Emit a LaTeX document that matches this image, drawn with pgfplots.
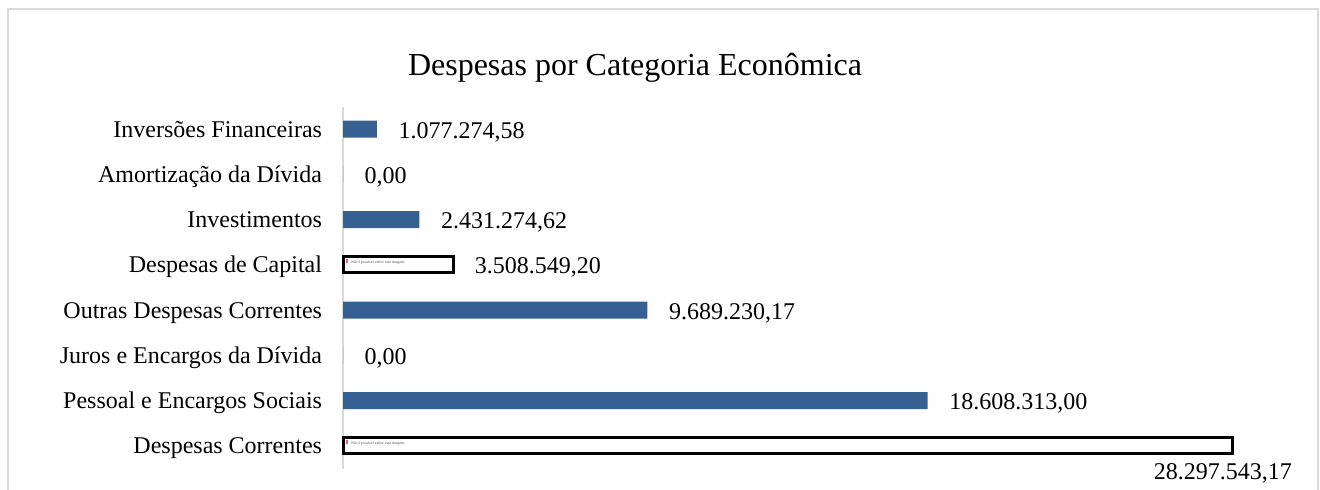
\documentclass[border=0pt]{standalone}
\usepackage{pgfplots}
\pgfplotsset{compat=1.18}
\usepackage{fontspec}
\setmainfont{Liberation Serif}
\definecolor{barblue}{HTML}{376092}
\definecolor{framegray}{HTML}{D9D9D9}
\definecolor{iconred}{HTML}{E8606A}
\begin{document}
\begin{tikzpicture}
\path[use as bounding box] (0,0) rectangle (990pt,-366.75pt);
\begin{scope}[x=0.75pt,y=-0.75pt]
\draw[framegray,line width=1.5pt] (7.5,500) -- (7.5,8.5) -- (1317.5,8.5) -- (1317.5,500);
\end{scope}
\clip (0,0) rectangle (990pt,-366.75pt);
\begin{axis}[
  at={(257.25pt,-351.45pt)},
  anchor=south west,
  scale only axis,
  width=666.75pt,
  height=271.5pt,
  xmin=0, xmax=28297543.17,
  ymin=-0.5, ymax=7.5,
  clip=false,
  axis x line=none,
  axis y line*=left,
  y axis line style={framegray,line width=1.5pt,-},
  ytick={0,1,2,3,4,5,6,7},
  yticklabels={Despesas Correntes,Pessoal e Encargos Sociais,Juros e Encargos da Dívida,Outras Despesas Correntes,Despesas de Capital,Investimentos,Amortização da Dívida,Inversões Financeiras},
  major tick length=0pt,
  tick style={draw=none},
  yticklabel style={font=\fontsize{18pt}{20pt}\selectfont,text=black,inner sep=0pt,xshift=-15.5pt,text height=12pt,text depth=3pt,yshift=-1.35pt},
  title={Despesas por Categoria Econômica},
  title style={at={(rel axis cs:0.3285,1.086)},anchor=center,font=\fontsize{24pt}{28pt}\selectfont,inner sep=0pt},
  xbar,
  point meta=explicit symbolic,
  nodes near coords,
  every node near coord/.append style={font=\fontsize{18pt}{20pt}\selectfont,text=black,anchor=west,inner sep=0pt,outer sep=0pt,xshift=16.3pt,text height=12pt,text depth=3pt,yshift=-2.1pt},
]
\addplot[bar shift=0pt,bar width=12.75pt,fill=barblue,draw=none] coordinates {
  (18608313.00,1) [18.608.313,00]
  (0,2) [0,00]
  (9689230.17,3) [9.689.230,17]
  (2431274.62,5) [2.431.274,62]
  (0,6) [0,00]
  (1077274.58,7) [1.077.274,58]
};
\addplot[bar shift=0pt,bar width=12pt,fill=white,draw=black,line width=2.25pt] coordinates {
  (3508549.20,4) [3.508.549,20]
};
\addplot[bar shift=0pt,bar width=12pt,fill=white,draw=black,line width=2.25pt,nodes near coords={}] coordinates {
  (28297543.17,0) []
};
\node[font=\fontsize{18pt}{20pt}\selectfont,inner sep=0pt,anchor=base] at (axis cs:28010000,-0.7516) {28.297.543,17};
\node[font=\fontsize{2.9pt}{3pt}\selectfont,anchor=west,inner sep=0pt] at (axis cs:80000,4.07) {\textcolor{iconred}{\rule{2pt}{3pt}}\hspace{2pt}\textcolor{black!70}{Não é possível exibir esta imagem.}};
\node[font=\fontsize{2.9pt}{3pt}\selectfont,anchor=west,inner sep=0pt] at (axis cs:80000,0.07) {\textcolor{iconred}{\rule{2pt}{3pt}}\hspace{2pt}\textcolor{black!70}{Não é possível exibir esta imagem.}};
\end{axis}
\end{tikzpicture}
\end{document}
